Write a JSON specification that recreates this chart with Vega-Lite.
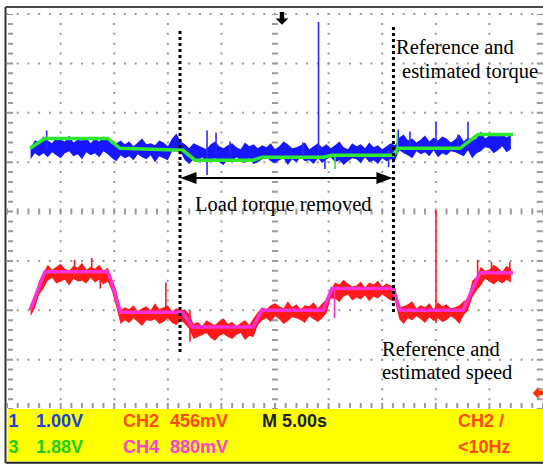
{
"$schema":"https://vega.github.io/schema/vega-lite/v6.json",
"width":536,"height":395,
"autosize":{"type":"none"},
"padding":{"left":7,"top":14,"right":0,"bottom":57},
"background":"#ffffff",
"config":{"view":{"stroke":null}},
"data":{"values":[{}]},
"datasets":{
"traces":[
{"x":22,"torque_lo":253,"torque_hi":265,"speed_lo":94,"speed_hi":105},
{"x":26,"torque_lo":259,"torque_hi":272,"speed_lo":102,"speed_hi":114},
{"x":30,"torque_lo":256,"torque_hi":271,"speed_lo":116,"speed_hi":130},
{"x":34,"torque_lo":259,"torque_hi":276,"speed_lo":122,"speed_hi":138},
{"x":38,"torque_lo":255,"torque_hi":272,"speed_lo":130,"speed_hi":146},
{"x":42,"torque_lo":260,"torque_hi":269,"speed_lo":133,"speed_hi":141},
{"x":46,"torque_lo":257,"torque_hi":275,"speed_lo":127,"speed_hi":144},
{"x":50,"torque_lo":254,"torque_hi":273,"speed_lo":129,"speed_hi":147},
{"x":54,"torque_lo":259,"torque_hi":271,"speed_lo":131,"speed_hi":142},
{"x":58,"torque_lo":261,"torque_hi":277,"speed_lo":125,"speed_hi":140},
{"x":62,"torque_lo":256,"torque_hi":270,"speed_lo":132,"speed_hi":145},
{"x":66,"torque_lo":258,"torque_hi":273,"speed_lo":129,"speed_hi":143},
{"x":70,"torque_lo":253,"torque_hi":272,"speed_lo":130,"speed_hi":148},
{"x":74,"torque_lo":260,"torque_hi":275,"speed_lo":127,"speed_hi":141},
{"x":78,"torque_lo":257,"torque_hi":269,"speed_lo":133,"speed_hi":144},
{"x":82,"torque_lo":259,"torque_hi":274,"speed_lo":128,"speed_hi":142},
{"x":86,"torque_lo":255,"torque_hi":271,"speed_lo":131,"speed_hi":146},
{"x":90,"torque_lo":261,"torque_hi":276,"speed_lo":126,"speed_hi":140},
{"x":94,"torque_lo":258,"torque_hi":273,"speed_lo":129,"speed_hi":143},
{"x":98,"torque_lo":254,"torque_hi":268,"speed_lo":119,"speed_hi":132},
{"x":102,"torque_lo":251,"torque_hi":269,"speed_lo":103,"speed_hi":120},
{"x":106,"torque_lo":257,"torque_hi":272,"speed_lo":86,"speed_hi":100},
{"x":110,"torque_lo":254,"torque_hi":268,"speed_lo":90,"speed_hi":103},
{"x":114,"torque_lo":256,"torque_hi":271,"speed_lo":87,"speed_hi":101},
{"x":118,"torque_lo":252,"torque_hi":266,"speed_lo":92,"speed_hi":105},
{"x":122,"torque_lo":258,"torque_hi":270,"speed_lo":88,"speed_hi":99},
{"x":126,"torque_lo":255,"torque_hi":274,"speed_lo":84,"speed_hi":102},
{"x":130,"torque_lo":253,"torque_hi":268,"speed_lo":90,"speed_hi":104},
{"x":134,"torque_lo":257,"torque_hi":269,"speed_lo":89,"speed_hi":100},
{"x":138,"torque_lo":250,"torque_hi":267,"speed_lo":91,"speed_hi":107},
{"x":142,"torque_lo":256,"torque_hi":272,"speed_lo":86,"speed_hi":101},
{"x":146,"torque_lo":254,"torque_hi":270,"speed_lo":88,"speed_hi":103},
{"x":150,"torque_lo":252,"torque_hi":266,"speed_lo":92,"speed_hi":105},
{"x":154,"torque_lo":261,"torque_hi":274,"speed_lo":87,"speed_hi":99},
{"x":158,"torque_lo":261,"torque_hi":279,"speed_lo":85,"speed_hi":102},
{"x":162,"torque_lo":260,"torque_hi":271,"speed_lo":90,"speed_hi":100},
{"x":166,"torque_lo":252,"torque_hi":268,"speed_lo":86,"speed_hi":101},
{"x":170,"torque_lo":248,"torque_hi":264,"speed_lo":81,"speed_hi":96},
{"x":174,"torque_lo":253,"torque_hi":269,"speed_lo":71,"speed_hi":86},
{"x":178,"torque_lo":251,"torque_hi":267,"speed_lo":73,"speed_hi":88},
{"x":182,"torque_lo":255,"torque_hi":265,"speed_lo":75,"speed_hi":84},
{"x":186,"torque_lo":249,"torque_hi":263,"speed_lo":77,"speed_hi":90},
{"x":190,"torque_lo":252,"torque_hi":268,"speed_lo":72,"speed_hi":87},
{"x":194,"torque_lo":254,"torque_hi":271,"speed_lo":69,"speed_hi":85},
{"x":198,"torque_lo":250,"torque_hi":266,"speed_lo":74,"speed_hi":89},
{"x":202,"torque_lo":247,"torque_hi":264,"speed_lo":76,"speed_hi":92},
{"x":206,"torque_lo":253,"torque_hi":267,"speed_lo":73,"speed_hi":86},
{"x":210,"torque_lo":251,"torque_hi":269,"speed_lo":71,"speed_hi":88},
{"x":214,"torque_lo":255,"torque_hi":265,"speed_lo":75,"speed_hi":84},
{"x":218,"torque_lo":252,"torque_hi":263,"speed_lo":77,"speed_hi":87},
{"x":222,"torque_lo":249,"torque_hi":270,"speed_lo":70,"speed_hi":90},
{"x":226,"torque_lo":254,"torque_hi":266,"speed_lo":74,"speed_hi":85},
{"x":230,"torque_lo":248,"torque_hi":268,"speed_lo":73,"speed_hi":92},
{"x":234,"torque_lo":250,"torque_hi":264,"speed_lo":85,"speed_hi":98},
{"x":238,"torque_lo":253,"torque_hi":267,"speed_lo":90,"speed_hi":103},
{"x":242,"torque_lo":255,"torque_hi":265,"speed_lo":92,"speed_hi":101},
{"x":246,"torque_lo":251,"torque_hi":269,"speed_lo":88,"speed_hi":105},
{"x":250,"torque_lo":249,"torque_hi":263,"speed_lo":94,"speed_hi":107},
{"x":254,"torque_lo":252,"torque_hi":266,"speed_lo":91,"speed_hi":104},
{"x":258,"torque_lo":254,"torque_hi":271,"speed_lo":86,"speed_hi":102},
{"x":262,"torque_lo":247,"torque_hi":268,"speed_lo":89,"speed_hi":109},
{"x":266,"torque_lo":253,"torque_hi":264,"speed_lo":93,"speed_hi":103},
{"x":270,"torque_lo":250,"torque_hi":265,"speed_lo":92,"speed_hi":106},
{"x":274,"torque_lo":255,"torque_hi":267,"speed_lo":90,"speed_hi":101},
{"x":278,"torque_lo":251,"torque_hi":270,"speed_lo":87,"speed_hi":105},
{"x":282,"torque_lo":252,"torque_hi":263,"speed_lo":94,"speed_hi":104},
{"x":286,"torque_lo":248,"torque_hi":266,"speed_lo":91,"speed_hi":108},
{"x":290,"torque_lo":254,"torque_hi":269,"speed_lo":88,"speed_hi":102},
{"x":294,"torque_lo":249,"torque_hi":265,"speed_lo":92,"speed_hi":107},
{"x":298,"torque_lo":253,"torque_hi":268,"speed_lo":97,"speed_hi":111},
{"x":302,"torque_lo":255,"torque_hi":264,"speed_lo":112,"speed_hi":120},
{"x":306,"torque_lo":250,"torque_hi":267,"speed_lo":112,"speed_hi":128},
{"x":310,"torque_lo":252,"torque_hi":271,"speed_lo":108,"speed_hi":126},
{"x":314,"torque_lo":247,"torque_hi":265,"speed_lo":114,"speed_hi":131},
{"x":318,"torque_lo":251,"torque_hi":263,"speed_lo":116,"speed_hi":127},
{"x":322,"torque_lo":254,"torque_hi":269,"speed_lo":110,"speed_hi":124},
{"x":326,"torque_lo":253,"torque_hi":266,"speed_lo":113,"speed_hi":125},
{"x":330,"torque_lo":249,"torque_hi":268,"speed_lo":111,"speed_hi":129},
{"x":334,"torque_lo":255,"torque_hi":264,"speed_lo":115,"speed_hi":123},
{"x":338,"torque_lo":250,"torque_hi":270,"speed_lo":109,"speed_hi":128},
{"x":342,"torque_lo":252,"torque_hi":265,"speed_lo":114,"speed_hi":126},
{"x":346,"torque_lo":248,"torque_hi":267,"speed_lo":112,"speed_hi":130},
{"x":350,"torque_lo":254,"torque_hi":263,"speed_lo":116,"speed_hi":124},
{"x":354,"torque_lo":251,"torque_hi":266,"speed_lo":113,"speed_hi":127},
{"x":358,"torque_lo":253,"torque_hi":269,"speed_lo":110,"speed_hi":125},
{"x":362,"torque_lo":252,"torque_hi":267,"speed_lo":109,"speed_hi":123},
{"x":366,"torque_lo":262,"torque_hi":275,"speed_lo":91,"speed_hi":103},
{"x":370,"torque_lo":259,"torque_hi":278,"speed_lo":86,"speed_hi":104},
{"x":374,"torque_lo":257,"torque_hi":272,"speed_lo":92,"speed_hi":106},
{"x":378,"torque_lo":254,"torque_hi":274,"speed_lo":90,"speed_hi":109},
{"x":382,"torque_lo":261,"torque_hi":270,"speed_lo":94,"speed_hi":102},
{"x":386,"torque_lo":258,"torque_hi":273,"speed_lo":91,"speed_hi":105},
{"x":390,"torque_lo":260,"torque_hi":277,"speed_lo":87,"speed_hi":103},
{"x":394,"torque_lo":256,"torque_hi":271,"speed_lo":93,"speed_hi":107},
{"x":398,"torque_lo":262,"torque_hi":275,"speed_lo":89,"speed_hi":101},
{"x":402,"torque_lo":255,"torque_hi":272,"speed_lo":92,"speed_hi":108},
{"x":406,"torque_lo":259,"torque_hi":276,"speed_lo":88,"speed_hi":104},
{"x":410,"torque_lo":257,"torque_hi":274,"speed_lo":90,"speed_hi":106},
{"x":414,"torque_lo":261,"torque_hi":270,"speed_lo":94,"speed_hi":102},
{"x":418,"torque_lo":260,"torque_hi":273,"speed_lo":91,"speed_hi":103},
{"x":422,"torque_lo":258,"torque_hi":278,"speed_lo":86,"speed_hi":105},
{"x":426,"torque_lo":256,"torque_hi":271,"speed_lo":95,"speed_hi":109},
{"x":430,"torque_lo":262,"torque_hi":275,"speed_lo":100,"speed_hi":112},
{"x":434,"torque_lo":254,"torque_hi":272,"speed_lo":113,"speed_hi":130},
{"x":438,"torque_lo":259,"torque_hi":274,"speed_lo":120,"speed_hi":134},
{"x":442,"torque_lo":261,"torque_hi":281,"speed_lo":125,"speed_hi":144},
{"x":446,"torque_lo":265,"torque_hi":274,"speed_lo":132,"speed_hi":140},
{"x":450,"torque_lo":264,"torque_hi":277,"speed_lo":129,"speed_hi":141},
{"x":454,"torque_lo":259,"torque_hi":280,"speed_lo":126,"speed_hi":146},
{"x":458,"torque_lo":262,"torque_hi":276,"speed_lo":130,"speed_hi":143},
{"x":462,"torque_lo":266,"torque_hi":279,"speed_lo":127,"speed_hi":139},
{"x":466,"torque_lo":260,"torque_hi":275,"speed_lo":131,"speed_hi":145},
{"x":470,"torque_lo":263,"torque_hi":278,"speed_lo":128,"speed_hi":142}
],
"torque_ref":[
{"x":21.5,"torque":264},{"x":35.4,"torque":274},{"x":94.2,"torque":274},{"x":105.4,"torque":264},
{"x":164.2,"torque":262},{"x":175.4,"torque":252},{"x":229.5,"torque":252},{"x":237.9,"torque":255},
{"x":294.8,"torque":255},{"x":303.2,"torque":257},{"x":360.1,"torque":257},{"x":364.7,"torque":264},
{"x":422.6,"torque":264},{"x":439.3,"torque":278},{"x":472,"torque":278}
],
"speed_ref":[
{"x":21.5,"speed":100},{"x":35.4,"speed":139},{"x":94.2,"speed":139},{"x":106,"speed":98},
{"x":164,"speed":98},{"x":173,"speed":83},{"x":229.5,"speed":83},{"x":237.9,"speed":100},
{"x":294.8,"speed":100},{"x":303.2,"speed":122},{"x":360.1,"speed":122},{"x":366.6,"speed":100},
{"x":425.3,"speed":100},{"x":441.2,"speed":138},{"x":472,"speed":138}
],
"spikes":[
{"x":290.6,"y_from":262,"y_to":392,"channel":"torque_est"},
{"x":186.6,"y_from":237,"y_to":282,"channel":"torque_est"},
{"x":195,"y_from":258,"y_to":280,"channel":"torque_est"},
{"x":37,"y_from":262,"y_to":282,"channel":"torque_est"},
{"x":375.9,"y_from":265,"y_to":281,"channel":"torque_est"},
{"x":400.2,"y_from":265,"y_to":291,"channel":"torque_est"},
{"x":430,"y_from":265,"y_to":291,"channel":"torque_est"},
{"x":208,"y_from":258,"y_to":271,"channel":"torque_est"},
{"x":356,"y_from":245,"y_to":262,"channel":"torque_est"},
{"x":296.6,"y_from":243,"y_to":258,"channel":"torque_est"},
{"x":365,"y_from":262,"y_to":283,"channel":"torque_est"},
{"x":420.7,"y_from":262,"y_to":278,"channel":"torque_est"},
{"x":276,"y_from":258,"y_to":270,"channel":"torque_est"},
{"x":306,"y_from":243,"y_to":257,"channel":"torque_ref"},
{"x":364,"y_from":257,"y_to":280,"channel":"torque_ref"},
{"x":400.2,"y_from":87,"y_to":201,"channel":"speed_est"},
{"x":148.2,"y_from":98,"y_to":128,"channel":"speed_est"},
{"x":170.7,"y_from":68,"y_to":100,"channel":"speed_est"},
{"x":63,"y_from":136,"y_to":151,"channel":"speed_est"},
{"x":79,"y_from":135,"y_to":153,"channel":"speed_est"},
{"x":87,"y_from":122,"y_to":139,"channel":"speed_est"},
{"x":439,"y_from":130,"y_to":151,"channel":"speed_est"},
{"x":452,"y_from":136,"y_to":149,"channel":"speed_est"},
{"x":469,"y_from":136,"y_to":149,"channel":"speed_est"},
{"x":305.5,"y_from":92,"y_to":120,"channel":"speed_ref"}
]
},
"layer":[
{"mark":{"type":"rect","color":"#ffff00"},
 "encoding":{"x":{"datum":0.5,"axis":null,"scale":{"domain":[0,500],"nice":false,"zero":false}},"x2":{"datum":500},"y":{"datum":0,"axis":null,"scale":{"domain":[0,400],"nice":false,"zero":false}},"y2":{"datum":-53.2}}},
{"mark":{"type":"rule","color":"#4a4a4a","strokeWidth":2},
 "encoding":{"x":{"datum":-1.4,"axis":null},"x2":{"datum":500},"y":{"datum":407,"axis":null}}},
{"mark":{"type":"rule","color":"#333333","strokeWidth":2},
 "encoding":{"x":{"datum":-1.4,"axis":null},"y":{"datum":407,"axis":null},"y2":{"datum":-54.5}}},
{"mark":{"type":"rule","color":"#222222","strokeWidth":2},
 "encoding":{"x":{"datum":-1.4,"axis":null},"x2":{"datum":500},"y":{"datum":-54.5,"axis":null}}},
{"mark":{"type":"rule","color":"#9a9a9a","strokeWidth":2,"strokeDash":[2,7.875],"strokeDashOffset":1},"encoding":{"x":{"datum":50,"axis":null},"y":{"datum":0,"axis":null},"y2":{"datum":400}}},
{"mark":{"type":"rule","color":"#9a9a9a","strokeWidth":2,"strokeDash":[2,7.875],"strokeDashOffset":1},"encoding":{"x":{"datum":100,"axis":null},"y":{"datum":0,"axis":null},"y2":{"datum":400}}},
{"mark":{"type":"rule","color":"#9a9a9a","strokeWidth":2,"strokeDash":[2,7.875],"strokeDashOffset":1},"encoding":{"x":{"datum":150,"axis":null},"y":{"datum":0,"axis":null},"y2":{"datum":400}}},
{"mark":{"type":"rule","color":"#9a9a9a","strokeWidth":2,"strokeDash":[2,7.875],"strokeDashOffset":1},"encoding":{"x":{"datum":200,"axis":null},"y":{"datum":0,"axis":null},"y2":{"datum":400}}},
{"mark":{"type":"rule","color":"#9a9a9a","strokeWidth":2,"strokeDash":[2,7.875],"strokeDashOffset":1},"encoding":{"x":{"datum":300,"axis":null},"y":{"datum":0,"axis":null},"y2":{"datum":400}}},
{"mark":{"type":"rule","color":"#9a9a9a","strokeWidth":2,"strokeDash":[2,7.875],"strokeDashOffset":1},"encoding":{"x":{"datum":350,"axis":null},"y":{"datum":0,"axis":null},"y2":{"datum":400}}},
{"mark":{"type":"rule","color":"#9a9a9a","strokeWidth":2,"strokeDash":[2,7.875],"strokeDashOffset":1},"encoding":{"x":{"datum":400,"axis":null},"y":{"datum":0,"axis":null},"y2":{"datum":400}}},
{"mark":{"type":"rule","color":"#9a9a9a","strokeWidth":2,"strokeDash":[2,7.875],"strokeDashOffset":1},"encoding":{"x":{"datum":450,"axis":null},"y":{"datum":0,"axis":null},"y2":{"datum":400}}},
{"mark":{"type":"rule","color":"#9a9a9a","strokeWidth":2,"strokeDash":[2,8.72],"strokeDashOffset":1},"encoding":{"x":{"datum":0,"axis":null},"x2":{"datum":500},"y":{"datum":50,"axis":null}}},
{"mark":{"type":"rule","color":"#9a9a9a","strokeWidth":2,"strokeDash":[2,8.72],"strokeDashOffset":1},"encoding":{"x":{"datum":0,"axis":null},"x2":{"datum":500},"y":{"datum":100,"axis":null}}},
{"mark":{"type":"rule","color":"#9a9a9a","strokeWidth":2,"strokeDash":[2,8.72],"strokeDashOffset":1},"encoding":{"x":{"datum":0,"axis":null},"x2":{"datum":500},"y":{"datum":150,"axis":null}}},
{"mark":{"type":"rule","color":"#9a9a9a","strokeWidth":2,"strokeDash":[2,8.72],"strokeDashOffset":1},"encoding":{"x":{"datum":0,"axis":null},"x2":{"datum":500},"y":{"datum":250,"axis":null}}},
{"mark":{"type":"rule","color":"#9a9a9a","strokeWidth":2,"strokeDash":[2,8.72],"strokeDashOffset":1},"encoding":{"x":{"datum":0,"axis":null},"x2":{"datum":500},"y":{"datum":300,"axis":null}}},
{"mark":{"type":"rule","color":"#9a9a9a","strokeWidth":2,"strokeDash":[2,8.72],"strokeDashOffset":1},"encoding":{"x":{"datum":0,"axis":null},"x2":{"datum":500},"y":{"datum":350,"axis":null}}},
{"mark":{"type":"rule","color":"#9a9a9a","strokeWidth":2,"strokeDash":[2,8.72],"strokeDashOffset":1},"encoding":{"x":{"datum":0,"axis":null},"x2":{"datum":500},"y":{"datum":400,"axis":null}}},
{"mark":{"type":"rule","color":"#9a9a9a","strokeWidth":6,"strokeDash":[2,7.875],"strokeDashOffset":1},
 "encoding":{"x":{"datum":250,"axis":null},"y":{"datum":0,"axis":null},"y2":{"datum":400}}},
{"mark":{"type":"rule","color":"#9a9a9a","strokeWidth":6,"strokeDash":[2,8.72],"strokeDashOffset":1},
 "encoding":{"x":{"datum":0,"axis":null},"x2":{"datum":500},"y":{"datum":200,"axis":null}}},
{"mark":{"type":"rule","color":"#9a9a9a","strokeWidth":5,"strokeDash":[2,7.875],"strokeDashOffset":1},
 "encoding":{"x":{"datum":3.3,"axis":null},"y":{"datum":0,"axis":null},"y2":{"datum":400}}},
{"mark":{"type":"rule","color":"#9a9a9a","strokeWidth":5,"strokeDash":[2,8.72],"strokeDashOffset":1},
 "encoding":{"x":{"datum":0,"axis":null},"x2":{"datum":500},"y":{"datum":3.5,"axis":null}}},
{"mark":{"type":"rule","color":"#9a9a9a","strokeWidth":6,"strokeDash":[2,7.875],"strokeDashOffset":1},
 "encoding":{"x":{"datum":497,"axis":null},"y":{"datum":0,"axis":null},"y2":{"datum":400}}},
{"data":{"name":"traces"},
 "mark":{"type":"area","color":"#1616ff","interpolate":"linear"},
 "encoding":{"x":{"field":"x","type":"quantitative","axis":null},"y":{"field":"torque_lo","type":"quantitative","axis":null},"y2":{"field":"torque_hi"}}},
{"data":{"name":"traces"},
 "mark":{"type":"area","color":"#ff1a1a","interpolate":"linear"},
 "encoding":{"x":{"field":"x","type":"quantitative","axis":null},"y":{"field":"speed_lo","type":"quantitative","axis":null},"y2":{"field":"speed_hi"}}},
{"data":{"name":"spikes"},
 "mark":{"type":"rule","strokeWidth":1.6},
 "encoding":{"x":{"field":"x","type":"quantitative","axis":null},"y":{"field":"y_from","type":"quantitative","axis":null},"y2":{"field":"y_to"},
  "color":{"field":"channel","type":"nominal","scale":{"domain":["torque_est","torque_ref","speed_est","speed_ref"],"range":["#2a2aff","#2ee82e","#ff1a1a","#ff2fd8"]},"legend":null}}},
{"data":{"name":"torque_ref"},
 "mark":{"type":"line","color":"#2ee82e","strokeWidth":3.5},
 "encoding":{"x":{"field":"x","type":"quantitative","axis":null},"y":{"field":"torque","type":"quantitative","axis":null}}},
{"data":{"name":"speed_ref"},
 "mark":{"type":"line","color":"#ff2fd8","strokeWidth":3.5},
 "encoding":{"x":{"field":"x","type":"quantitative","axis":null},"y":{"field":"speed","type":"quantitative","axis":null}}},
{"mark":{"type":"point","shape":"M-0.35,-1L0.35,-1L0.35,0L1,0L0,1L-1,0L-0.35,0Z","filled":true,"color":"#000000","size":160,"opacity":1},
 "encoding":{"x":{"datum":256.5,"axis":null},"y":{"datum":395.5,"axis":null}}},
{"mark":{"type":"point","shape":"M-1,0L0,-1L0,-0.35L1,-0.35L1,0.35L0,0.35L0,1Z","filled":true,"color":"#ff3000","size":150,"opacity":1},
 "encoding":{"x":{"datum":496,"axis":null},"y":{"datum":16.2,"axis":null}}},
{"mark":{"type":"rule","color":"#000000","strokeWidth":3,"strokeDash":[3,3]},
 "encoding":{"x":{"datum":161.4,"axis":null},"y":{"datum":57.7,"axis":null},"y2":{"datum":385.8}}},
{"mark":{"type":"rule","color":"#000000","strokeWidth":3,"strokeDash":[3,3]},
 "encoding":{"x":{"datum":360.5,"axis":null},"y":{"datum":98.2,"axis":null},"y2":{"datum":386.8}}},
{"mark":{"type":"rule","color":"#000000","strokeWidth":2},
 "encoding":{"x":{"datum":165.1,"axis":null},"x2":{"datum":356.3},"y":{"datum":233.9,"axis":null}}},
{"mark":{"type":"point","shape":"M-1,0L1,-0.75L1,0.75Z","filled":true,"color":"#000000","size":256,"opacity":1},
 "encoding":{"x":{"datum":169.3,"axis":null},"y":{"datum":233.9,"axis":null}}},
{"mark":{"type":"point","shape":"M1,0L-1,-0.75L-1,0.75Z","filled":true,"color":"#000000","size":256,"opacity":1},
 "encoding":{"x":{"datum":352.1,"axis":null},"y":{"datum":233.9,"axis":null}}},
{"mark":{"type":"text","text":"Reference and","font":"Liberation Serif","fontSize":20.5,"color":"#000000","align":"left","baseline":"middle"},
 "encoding":{"x":{"datum":362.9,"axis":null},"y":{"datum":365.6,"axis":null}}},
{"mark":{"type":"text","text":"estimated torque","font":"Liberation Serif","fontSize":20.5,"color":"#000000","align":"left","baseline":"middle"},
 "encoding":{"x":{"datum":368.5,"axis":null},"y":{"datum":341.3,"axis":null}}},
{"mark":{"type":"text","text":"Load torque removed","font":"Liberation Serif","fontSize":20.5,"color":"#000000","align":"left","baseline":"middle"},
 "encoding":{"x":{"datum":175.4,"axis":null},"y":{"datum":206.6,"axis":null}}},
{"mark":{"type":"text","text":"Reference and","font":"Liberation Serif","fontSize":20.5,"color":"#000000","align":"left","baseline":"middle"},
 "encoding":{"x":{"datum":349.8,"axis":null},"y":{"datum":59.7,"axis":null}}},
{"mark":{"type":"text","text":"estimated speed","font":"Liberation Serif","fontSize":20.5,"color":"#000000","align":"left","baseline":"middle"},
 "encoding":{"x":{"datum":349.8,"axis":null},"y":{"datum":36.5,"axis":null}}},
{"mark":{"type":"text","text":"1","font":"Liberation Sans","fontSize":18,"fontWeight":"bold","color":"#2040e0","align":"left","baseline":"middle"},
 "encoding":{"x":{"datum":1.5,"axis":null},"y":{"datum":-13.2,"axis":null}}},
{"mark":{"type":"text","text":"1.00V","font":"Liberation Sans","fontSize":18,"fontWeight":"bold","color":"#2040e0","align":"left","baseline":"middle"},
 "encoding":{"x":{"datum":27.1,"axis":null},"y":{"datum":-13.2,"axis":null}}},
{"mark":{"type":"text","text":"CH2","font":"Liberation Sans","fontSize":18,"fontWeight":"bold","color":"#ff4a10","align":"left","baseline":"middle"},
 "encoding":{"x":{"datum":108.2,"axis":null},"y":{"datum":-13.2,"axis":null}}},
{"mark":{"type":"text","text":"456mV","font":"Liberation Sans","fontSize":18,"fontWeight":"bold","color":"#ff4a10","align":"left","baseline":"middle"},
 "encoding":{"x":{"datum":152.1,"axis":null},"y":{"datum":-13.2,"axis":null}}},
{"mark":{"type":"text","text":"M 5.00s","font":"Liberation Sans","fontSize":18,"fontWeight":"bold","color":"#202020","align":"left","baseline":"middle"},
 "encoding":{"x":{"datum":237.9,"axis":null},"y":{"datum":-13.2,"axis":null}}},
{"mark":{"type":"text","text":"CH2 /","font":"Liberation Sans","fontSize":18,"fontWeight":"bold","color":"#ff4a10","align":"left","baseline":"middle"},
 "encoding":{"x":{"datum":420.7,"axis":null},"y":{"datum":-13.2,"axis":null}}},
{"mark":{"type":"text","text":"3","font":"Liberation Sans","fontSize":18,"fontWeight":"bold","color":"#22cc22","align":"left","baseline":"middle"},
 "encoding":{"x":{"datum":1.5,"axis":null},"y":{"datum":-39,"axis":null}}},
{"mark":{"type":"text","text":"1.88V","font":"Liberation Sans","fontSize":18,"fontWeight":"bold","color":"#22cc22","align":"left","baseline":"middle"},
 "encoding":{"x":{"datum":27.1,"axis":null},"y":{"datum":-39,"axis":null}}},
{"mark":{"type":"text","text":"CH4","font":"Liberation Sans","fontSize":18,"fontWeight":"bold","color":"#ff40d0","align":"left","baseline":"middle"},
 "encoding":{"x":{"datum":108.2,"axis":null},"y":{"datum":-39,"axis":null}}},
{"mark":{"type":"text","text":"880mV","font":"Liberation Sans","fontSize":18,"fontWeight":"bold","color":"#ff40d0","align":"left","baseline":"middle"},
 "encoding":{"x":{"datum":152.1,"axis":null},"y":{"datum":-39,"axis":null}}},
{"mark":{"type":"text","text":"<10Hz","font":"Liberation Sans","fontSize":18,"fontWeight":"bold","color":"#ff4a10","align":"left","baseline":"middle"},
 "encoding":{"x":{"datum":420.7,"axis":null},"y":{"datum":-39,"axis":null}}}
]
}
